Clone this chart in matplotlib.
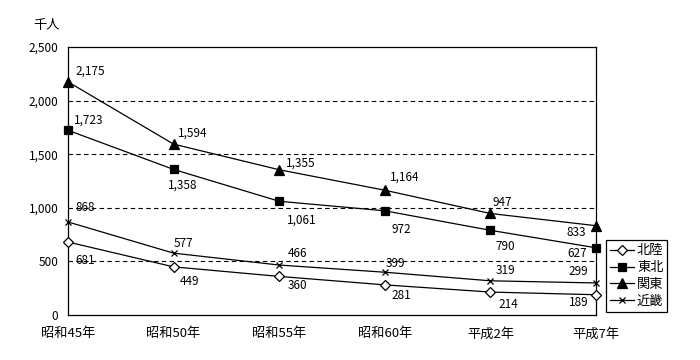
import matplotlib
matplotlib.use('Agg')
import matplotlib.pyplot as plt

plt.rcParams['font.family'] = ['Noto Sans CJK JP', 'DejaVu Sans']
plt.rcParams['font.size'] = 8.5

years = ['昭和45年', '昭和50年', '昭和55年', '昭和60年', '平成2年', '平成7年']
hokuriku = [681, 449, 360, 281, 214, 189]
tohoku = [1723, 1358, 1061, 972, 790, 627]
kanto = [2175, 1594, 1355, 1164, 947, 833]
kinki = [868, 577, 466, 399, 319, 299]
names = ['北陸', '東北', '関東', '近畿']

# label offsets in pixels (dx, dy) from each point
off_hokuriku = [(17, -19), (16, -15), (18, -9), (17, -11), (18, -12), (-17, -8)]
off_tohoku = [(21, 10), (9, -16), (23, -19), (17, -19), (15, -16), (-19, -6)]
off_kanto = [(22, 11), (19, 11), (22, 7), (20, 13), (12, 11), (-20, -7)]
off_kinki = [(17, 14), (10, 10), (18, 12), (11, 9), (15, 10), (-18, 11)]

fig = plt.figure(figsize=(7, 3.6), dpi=100)
ax = fig.add_axes([68/700, 45/360, 528/700, 268/360])
x = list(range(len(years)))

series = [
    (hokuriku, 'D', 'white', 5, off_hokuriku),
    (tohoku, 's', 'black', 6, off_tohoku),
    (kanto, '^', 'black', 6.5, off_kanto),
    (kinki, 'x', 'black', 5, off_kinki),
]
for (vals, mk, fc, ms, offs), nm in zip(series, names):
    ax.plot(x, vals, color='black', lw=0.9, marker=mk, markerfacecolor=fc,
            markeredgecolor='black', markersize=ms, markeredgewidth=0.9,
            label=nm, clip_on=False, zorder=3)
    for xi, v, (dx, dy) in zip(x, vals, offs):
        ax.annotate(f'{v:,}', (xi, v), xytext=(dx, dy), textcoords='offset pixels',
                    ha='center', va='center', fontsize=8.5)

ax.set_xlim(0, 5)
ax.set_ylim(0, 2500)
ax.set_yticks([0, 500, 1000, 1500, 2000, 2500])
ax.set_yticklabels([f'{t:,}' for t in [0, 500, 1000, 1500, 2000, 2500]])
ax.set_xticks(x)
ax.set_xticklabels(years, fontsize=9.5)
ax.tick_params(axis='y', length=0, pad=7)
ax.tick_params(axis='x', length=0, pad=9)
for t in [500, 1000, 1500, 2000]:
    ax.axhline(t, color='black', lw=0.8, ls=(0, (4, 3)), zorder=1)
for s in ax.spines.values():
    s.set_linewidth(0.9)

fig.text(33/700, 1 - 25/360, '千人', ha='left', va='center', fontsize=9.5)

leg = ax.legend(loc='lower left', bbox_to_anchor=(606/700, 48/360),
                bbox_transform=fig.transFigure, frameon=True, fancybox=False,
                edgecolor='black', framealpha=1, handlelength=1.8,
                handletextpad=0.25, borderpad=0.3, labelspacing=0.3,
                borderaxespad=0, fontsize=9.5)
leg.get_frame().set_linewidth(0.9)

fig.savefig('out.png', dpi=100)
